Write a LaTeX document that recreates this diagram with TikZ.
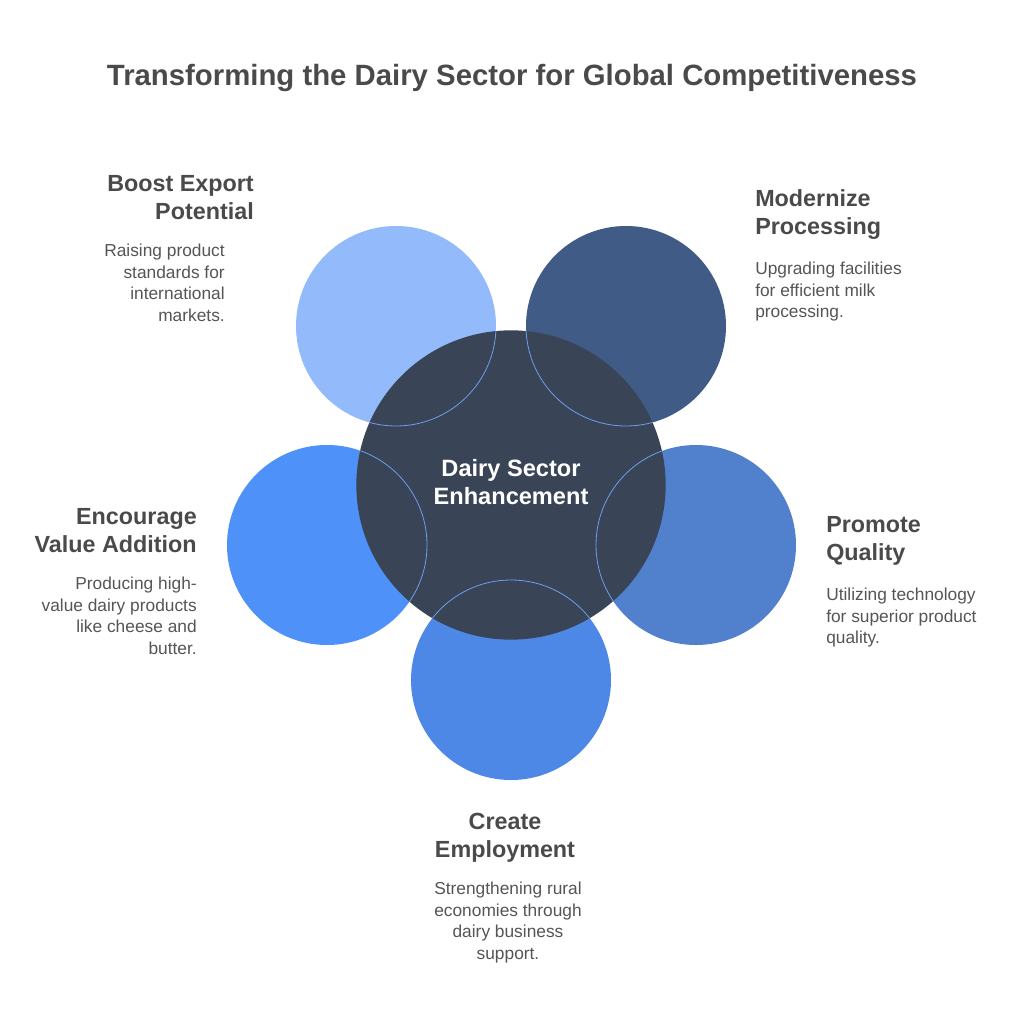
\documentclass[tikz,border=0pt]{standalone}
\usepackage{fontspec}
\setmainfont{Liberation Sans}
\definecolor{txtgray}{HTML}{4A4A4A}
\definecolor{bodygray}{HTML}{555555}
\definecolor{hubfill}{HTML}{394456}
\definecolor{ringline}{HTML}{6E9FEE}
\definecolor{exportc}{HTML}{93BBFB}
\definecolor{processc}{HTML}{415B87}
\definecolor{valuec}{HTML}{4E92F9}
\definecolor{qualityc}{HTML}{5181CC}
\definecolor{employc}{HTML}{4E88E6}
\tikzset{
  petal/.style={circle,inner sep=0pt,minimum size=150pt},
  ring/.style={circle,draw=ringline,line width=0.6pt,inner sep=0pt,minimum size=150pt},
  hub/.style={circle,fill=hubfill,inner sep=0pt,minimum size=232pt},
  head/.style={inner sep=0pt,text=txtgray,font=\fontsize{17.5}{21}\selectfont\bfseries},
  desc/.style={inner sep=0pt,text=bodygray,font=\fontsize{13}{16.1}\selectfont},
}
\begin{document}
\begin{tikzpicture}[x=0.75pt,y=-0.75pt]
	\useasboundingbox[fill=white] (0,0) rectangle (1024,1009);
	\node[inner sep=0pt,anchor=north,text=txtgray,font=\fontsize{22}{26}\selectfont\bfseries] (title) at (512,64) {Transforming the Dairy Sector for Global Competitiveness};
	% outer circles
	\node[petal,fill=exportc] (export) at (396,326) {};
	\node[petal,fill=processc] (process) at (626,326) {};
	\node[petal,fill=valuec] (value) at (327,545) {};
	\node[petal,fill=qualityc] (quality) at (696,545) {};
	\node[petal,fill=employc] (employ) at (511,680) {};
	% centre
	\node[hub] (hub) at (511,485) {};
	\begin{scope}
		\clip (511,485) circle (116pt);
		\node[ring] at (export.center) {};
		\node[ring] at (process.center) {};
		\node[ring] at (value.center) {};
		\node[ring] at (quality.center) {};
		\node[ring] at (employ.center) {};
	\end{scope}
	\node[inner sep=0pt,align=center,text=white,font=\fontsize{17.7}{21}\selectfont\bfseries] (hubtext) at (511,482) {Dairy Sector\\Enhancement};
	% labels
	\node[head,anchor=north east,align=right] (exporth) at (254,175) {Boost Export\\Potential};
	\node[desc,anchor=north east,align=right] (exportd) at (225,244) {Raising product\\standards for\\international\\markets.};
	\node[head,anchor=north west,align=left] (processh) at (755,189) {Modernize\\Processing};
	\node[desc,anchor=north west,align=left] (processd) at (755,262) {Upgrading facilities\\for efficient milk\\processing.};
	\node[head,anchor=north east,align=right] (valueh) at (197,508) {Encourage\\Value Addition};
	\node[desc,anchor=north east,align=right] (valued) at (197,577) {Producing high-\\value dairy products\\like cheese and\\butter.};
	\node[head,anchor=north west,align=left] (qualityh) at (826,516) {Promote\\Quality};
	\node[desc,anchor=north west,align=left] (qualityd) at (826,588) {Utilizing technology\\for superior product\\quality.};
	\node[head,anchor=north,align=center] (employh) at (505,813) {Create\\Employment};
	\node[desc,anchor=north,align=center] (employd) at (508,882) {Strengthening rural\\economies through\\dairy business\\support.};
\end{tikzpicture}
\end{document}
